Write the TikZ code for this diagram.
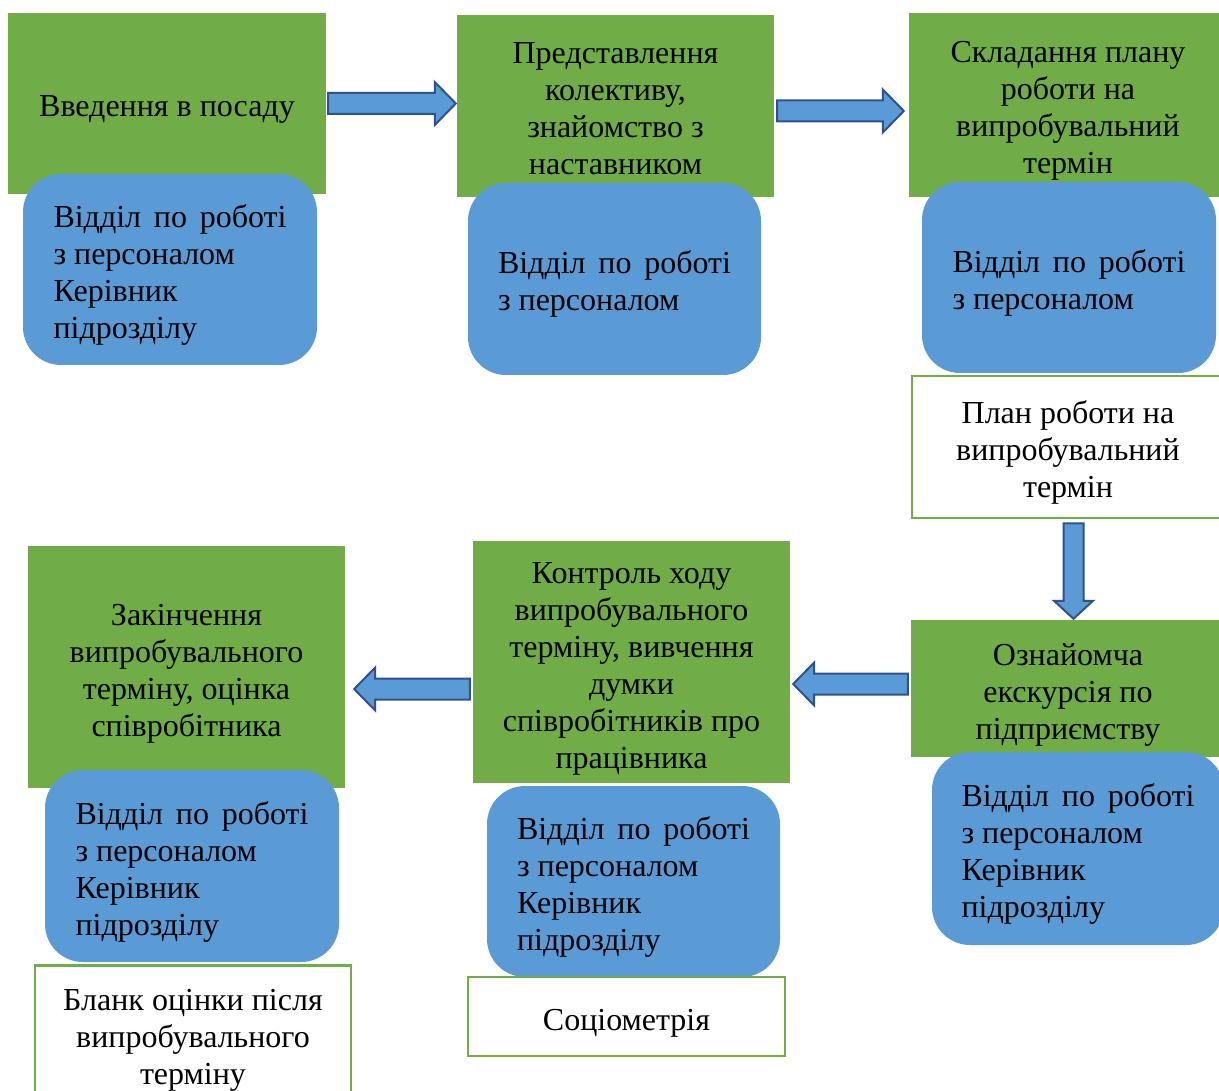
\documentclass[tikz,border=0pt]{standalone}
\usepackage{fontspec}
\setmainfont{Liberation Serif}
\usetikzlibrary{calc}
\definecolor{cgreen}{HTML}{70AD47}
\definecolor{cblue}{HTML}{5B9BD5}
\definecolor{cline}{HTML}{2F528F}
\newcommand{\fsz}{\fontsize{32}{37}\selectfont}
\newcommand{\jline}{\makebox[233pt][s]{Відділ по роботі}}
\tikzset{
  txt/.style={font=\fsz, execute at begin node={\rule{0pt}{37pt}}, execute at end node={\rule[-10pt]{0pt}{10pt}}},
  stage/.style={txt, fill=cgreen, inner sep=0pt, text width=300pt, align=flush center},
  who/.style={txt, fill=cblue, rounded corners=38pt, inner sep=0pt, text width=233pt, align=flush left},
  doc/.style={txt, draw=cgreen, line width=2.5pt, fill=white, text width=300pt, align=flush center, inner sep=0pt},
  blockarrow/.style={draw=cline, fill=cblue, line width=2pt, line join=miter}
}
% horizontal block arrow: start point, tip point (tip x only)
\newcommand{\hblock}[2]{%
  \draw[blockarrow] let \p1=(#1), \p2=(#2), \n1={sign(\x2-\x1)} in
    (\x1,{\y1+10.5pt}) -- ({\x2-(\n1)*21pt},{\y1+10.5pt}) -- ({\x2-(\n1)*21pt},{\y1+21.5pt})
    -- (\x2,\y1) -- ({\x2-(\n1)*21pt},{\y1-21.5pt}) -- ({\x2-(\n1)*21pt},{\y1-10.5pt})
    -- (\x1,{\y1-10.5pt}) -- cycle;}
% vertical (downward) block arrow
\newcommand{\vblock}[2]{%
  \draw[blockarrow] let \p1=(#1), \p2=(#2) in
    ({\x1-10pt},\y1) -- ({\x1-10pt},{\y2+18pt}) -- ({\x1-19.5pt},{\y2+18pt})
    -- (\x1,\y2) -- ({\x1+19.5pt},{\y2+18pt}) -- ({\x1+10pt},{\y2+18pt})
    -- ({\x1+10pt},\y1) -- cycle;}
\begin{document}
\begin{tikzpicture}[x=1pt,y=-1pt]
\useasboundingbox (0,0) rectangle (1219,1091);
\clip (0,0) rectangle (1219,1091);
\fill[white] (0,0) rectangle (1219,1091);

% green stage boxes
\node[stage, minimum width=318pt, minimum height=181pt] (g1) at (167,103.5) {Введення в посаду};
\node[stage, minimum width=317pt, minimum height=182pt] (g2) at (615.5,106) {Представлення\\колективу,\\знайомство з\\наставником};
\node[stage, minimum width=318pt, minimum height=184pt] (g3) at (1068,105) {Складання плану\\роботи на\\випробувальний\\термін};
\node[stage, minimum width=314pt, minimum height=137pt] (g4) at (1068,688.5) {Ознайомча\\екскурсія по\\підприємству};
\node[stage, minimum width=317pt, minimum height=242pt] (g5) at (631.5,662) {Контроль ходу\\випробувального\\терміну, вивчення\\думки\\співробітників про\\працівника};
\node[stage, minimum width=317pt, minimum height=242pt] (g6) at (186.5,667) {Закінчення\\випробувального\\терміну, оцінка\\співробітника};

% blue responsible boxes
\node[who, minimum width=294pt, minimum height=191pt] (b1) at (170,269.5) {\jline\\з персоналом\\Керівник\\підрозділу};
\node[who, minimum width=293pt, minimum height=192pt] (b2) at (614.5,279) {\jline\\з персоналом};
\node[who, minimum width=294pt, minimum height=191pt] (b3) at (1069,277.5) {\jline\\з персоналом};
\node[who, minimum width=292pt, minimum height=193pt] (b4) at (1078,848.5) {\jline\\з персоналом\\Керівник\\підрозділу};
\node[who, minimum width=293pt, minimum height=191pt] (b5) at (633.5,881.5) {\jline\\з персоналом\\Керівник\\підрозділу};
\node[who, minimum width=294pt, minimum height=192pt] (b6) at (192,866) {\jline\\з персоналом\\Керівник\\підрозділу};

% document boxes
\node[doc, minimum width=312pt, minimum height=142pt] (plan) at (1068,447) {План роботи на\\випробувальний\\термін};
\node[doc, minimum width=317pt, minimum height=79pt] (socio) at (626.5,1016.5) {Соціометрія};
\node[doc, minimum width=316pt, minimum height=136pt] (blank) at (193,1033.5) {Бланк оцінки після\\випробувального\\терміну};

% block arrows
\hblock{$(g1.east)+(2,0)$}{$(g2.west)+(-1,0)$}
\hblock{$(g2.east)+(3,5)$}{$(g3.west)+(-5,0)$}
\vblock{$(plan.south)+(5.5,4)$}{$(g4.north)+(5.5,-1)$}
\hblock{$(g4.west)+(-3,-4.5)$}{$(g5.east)+(3,0)$}
\hblock{$(g5.west)+(-3,27)$}{$(g6.east)+(9,0)$}
\end{tikzpicture}
\end{document}
